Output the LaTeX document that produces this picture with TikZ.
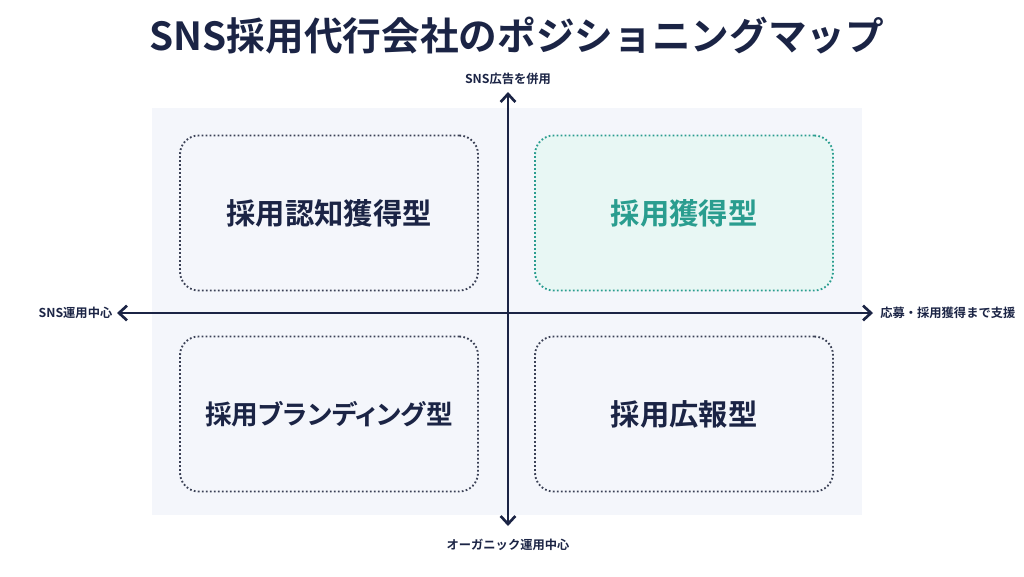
\documentclass[tikz,border=0pt]{standalone}
\usepackage{fontspec}
\setmainfont{Noto Sans CJK JP}
\newfontfamily\jpbold{Noto Sans CJK JP Bold}
\newfontfamily\jpboldp[RawFeature=+palt]{Noto Sans CJK JP Bold}
\usetikzlibrary{positioning,arrows.meta}
\definecolor{navy}{HTML}{1B2445}
\definecolor{panel}{HTML}{F4F6FB}
\definecolor{teal}{HTML}{2A9D8F}
\definecolor{tealbg}{HTML}{E8F7F4}
\definecolor{boxline}{HTML}{3A4055}
\tikzset{
  quad/.style={draw=boxline,dash pattern=on 1.3pt off 1.7pt,line width=1.4pt,rounded corners=14pt,
    minimum width=298*0.75pt,minimum height=155*0.75pt,fill=panel,
    font=\jpbold\fontsize{22}{24}\selectfont,text=navy},
  axis/.style={draw=navy,line width=2pt,{Straight Barb[length=6pt,width=11pt]}-{Straight Barb[length=6pt,width=11pt]}},
  axlabel/.style={font=\jpbold\fontsize{9.2}{11}\selectfont,text=navy}
}
\begin{document}
\begin{tikzpicture}[x=0.75pt,y=-0.75pt]
    \useasboundingbox (0,0) rectangle (1024,576);
    \fill[white] (0,0) rectangle (1024,576);
    \fill[panel] (152,108) rectangle (862,515);
    \node[font=\jpbold\fontsize{29}{32}\selectfont,text=navy] (title) at (517,36) {SNS採用代行会社のポジショニングマップ};

    \node[quad] (ninchi) at (329,213) {採用認知獲得型};
    \node[quad,draw=teal,fill=tealbg,text=teal] (kakutoku) at (684,213) {採用獲得型};
    \node[quad,font=\jpboldp\fontsize{20}{22}\selectfont] (brand) at (329,414) {採用ブランディング型};
    \node[quad] (kouhou) at (684,414) {採用広報型};

    \coordinate (top) at (508,92);
    \coordinate (bottom) at (508,526);
    \coordinate (left) at (117,313);
    \coordinate (right) at (873,313);
    \draw[axis] (top) -- (bottom);
    \draw[axis] (left) -- (right);

    \node[axlabel,above=2pt of top] (ad) {SNS広告を併用};
    \node[axlabel,below=6pt of bottom] (organic) {オーガニック運用中心};
    \node[axlabel,left=0pt of left] (unyou) {SNS運用中心};
    \node[axlabel,right=2pt of right] (shien) {応募・採用獲得まで支援};
\end{tikzpicture}
\end{document}
